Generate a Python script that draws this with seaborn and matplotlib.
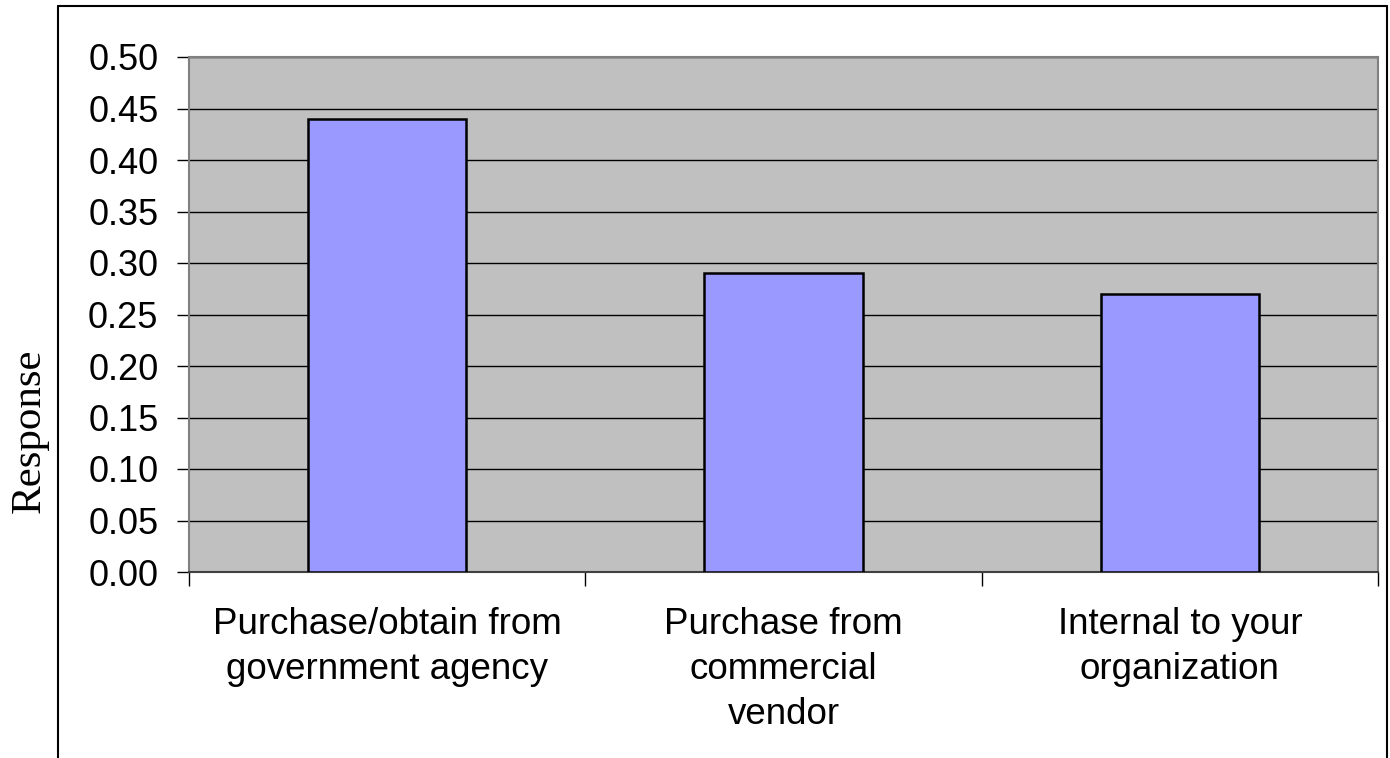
import matplotlib
matplotlib.use("Agg")
import matplotlib.pyplot as plt
from matplotlib.lines import Line2D
import seaborn as sns
import pandas as pd
import numpy as np

# Survey responses by data source
categories = [
    "Purchase/obtain from\ngovernment agency",
    "Purchase from\ncommercial\nvendor",
    "Internal to your\norganization",
]
responses = [0.44, 0.29, 0.27]
y_ticks = [0.00, 0.05, 0.10, 0.15, 0.20, 0.25, 0.30, 0.35, 0.40, 0.45, 0.50]
y_label = "Response"

sns.set_style("white")
plt.rcParams["font.family"] = ["Liberation Sans", "DejaVu Sans"]
plt.rcParams["text.color"] = "black"
plt.rcParams["xtick.color"] = "black"
plt.rcParams["ytick.color"] = "black"

W, H = 1390, 758
fig = plt.figure(figsize=(W / 100, H / 100), dpi=100)
fig.patch.set_facecolor("white")

# plot area in pixel coordinates
px_left, px_right, px_top, px_bottom = 189, 1378, 57, 572
ax = fig.add_axes([px_left / W, (H - px_bottom) / H,
                   (px_right - px_left) / W, (px_bottom - px_top) / H])

df = pd.DataFrame({"source": categories, "value": responses})
sns.barplot(data=df, x="source", y="value", ax=ax, color="#9999FF",
            saturation=1, width=0.4, edgecolor="black", linewidth=1.8,
            zorder=3)

ax.set_facecolor("#C0C0C0")
ax.set_ylim(0, 0.5)
ax.set_xlim(-0.5, len(categories) - 0.5)
ax.set_yticks(y_ticks)
ax.set_yticklabels([f"{v:.2f}" for v in y_ticks])
ax.yaxis.grid(True, color="black", linewidth=1.0, zorder=1)
ax.xaxis.grid(False)
ax.set_axisbelow(True)

# category separators as tick marks below the axis
ax.set_xticks(np.arange(len(categories)))
ax.set_xticklabels(categories, fontsize=26.5, linespacing=1.38,
                   color="black")
ax.set_xticks(np.arange(-0.5, len(categories)), minor=True)
ax.tick_params(axis="x", which="major", length=0, pad=25)
ax.tick_params(axis="x", which="minor", length=10, width=1, color="black",
               direction="out", bottom=True)
ax.tick_params(axis="y", length=9, width=1, color="black", direction="out",
               left=True, labelsize=26, pad=13, labelcolor="black")

for side in ["top", "right", "left"]:
    ax.spines[side].set_color("#808080")
    ax.spines[side].set_linewidth(1.5)
ax.spines["bottom"].set_color("#404040")
ax.spines["bottom"].set_linewidth(1.5)

ax.set_xlabel("")
ax.set_ylabel("")

fig.text(30 / W, 1 - 431 / H, y_label, rotation=90, ha="center", va="center",
         fontsize=31, color="black",
         family=["Liberation Serif", "DejaVu Serif"])

# outer chart frame
fx0, fx1, fy0 = 58 / W, 1387 / W, 1 - 6 / H
for xs, ys in [([fx0, fx1], [fy0, fy0]), ([fx0, fx0], [fy0, -0.01]),
               ([fx1, fx1], [fy0, -0.01])]:
    fig.add_artist(Line2D(xs, ys, color="black", linewidth=1.5,
                          transform=fig.transFigure))

fig.savefig("out.png", dpi=100)
